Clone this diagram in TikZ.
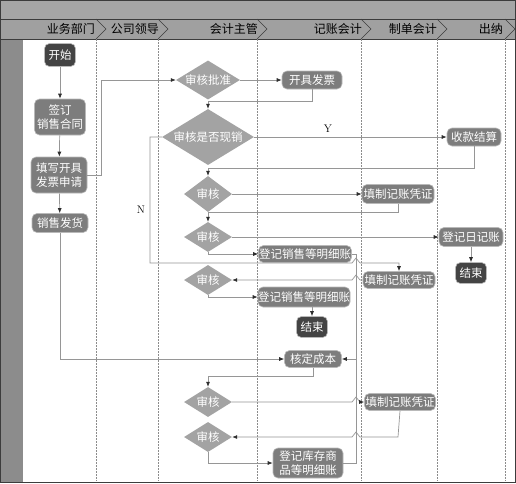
\documentclass[tikz,border=0pt]{standalone}
\usepackage{fontspec}
\newfontfamily\cjk{Noto Sans CJK SC}
\usetikzlibrary{arrows.meta,shapes.geometric,calc}
\definecolor{topband}{RGB}{166,166,166}
\definecolor{headband}{RGB}{160,160,160}
\definecolor{stripc}{RGB}{140,140,140}
\definecolor{framec}{RGB}{60,60,60}
\definecolor{procfill}{RGB}{125,125,125}
\definecolor{procedge}{RGB}{185,185,185}
\definecolor{termfill}{RGB}{68,68,68}
\definecolor{decfill}{RGB}{163,163,163}
\definecolor{linec}{RGB}{150,150,150}
\definecolor{arrc}{RGB}{45,45,45}
\definecolor{lanec}{RGB}{140,140,140}
\newcommand\mkzero[1]{\makebox[0pt]{#1}}
\begin{document}
\begin{tikzpicture}[x=1pt,y=-1pt,
  base/.style={font=\cjk\fontsize{11.5}{14}\selectfont, text=white, inner sep=0pt, align=center},
  proc/.style={base, rectangle, rounded corners=5pt, fill=procfill, draw=procedge, line width=0.6pt},
  term/.style={proc, fill=termfill},
  dec/.style={base, diamond, fill=decfill, draw=none},
  hdr/.style={font=\cjk\fontsize{12}{14}\selectfont, text=black, inner sep=0pt, anchor=east},
  conn/.style={draw=linec, line width=0.7pt, -{Latex[length=5pt,width=4pt,color=arrc]}},
  plain/.style={draw=linec, line width=0.7pt},
  lane/.style={draw=lanec, line width=0.5pt, dash pattern=on 1.5pt off 1.5pt},
  chev/.style={draw=framec, line width=0.6pt}
]
\useasboundingbox (0,0) rectangle (516,483);
% background
\fill[topband] (0,0) rectangle (516,19);
\fill[headband] (0,19) rectangle (516,39);
\fill[stripc] (0,39) rectangle (23,483);
\fill[white] (23,39) rectangle (514,481);
\draw[framec, line width=0.6pt] (0,19) -- (516,19);
\draw[framec, line width=0.6pt] (0,39) -- (516,39);
\draw[framec, line width=1.2pt] (0.6,0.6) rectangle (515.4,482.4);
% lanes
\foreach \x in {96,158,257,361,437,505} {
  \draw[lane] (\x,39) -- (\x,481);
  \draw[chev] (\x,19) -- (\x+10,29) -- (\x,39);
}
\node[hdr] (h1) at (95,29) {业务部门};
\node[hdr] (h2) at (159,29) {公司领导};
\node[hdr] (h3) at (258,29) {会计主管};
\node[hdr] (h4) at (362,29) {记账会计};
\node[hdr] (h5) at (437,29) {制单会计};
\node[hdr] (h6) at (503,29) {出纳};
% nodes
\node[term, minimum width=31pt, minimum height=23pt] (ks) at (60,55) {开始};
\node[proc, minimum width=51pt, minimum height=36pt] (qd) at (60,117) {签订\\销售合同};
\node[proc, minimum width=56pt, minimum height=36pt] (tx) at (59,175) {填写开具\\发票申请};
\node[proc, minimum width=56pt, minimum height=19pt] (xf) at (60,223) {销售发货};
\node[dec, minimum width=64pt, minimum height=39pt] (sp) at (208,80) {\mkzero{审核批准}};
\node[proc, minimum width=60pt, minimum height=18pt] (kf) at (312,80) {开具发票};
\node[dec, minimum width=92pt, minimum height=56pt] (sx) at (208,137) {\mkzero{审核是否现销}};
\node[proc, minimum width=54pt, minimum height=18pt] (sk) at (474,137) {收款结算};
\node[dec, minimum width=48pt, minimum height=36pt] (sh1) at (208,194) {\mkzero{审核}};
\node[proc, minimum width=72pt, minimum height=19pt] (tz1) at (398,194) {填制记账凭证};
\node[dec, minimum width=48pt, minimum height=30pt] (sh2) at (208,237) {\mkzero{审核}};
\node[proc, minimum width=64pt, minimum height=19pt] (rj) at (471,237) {登记日记账};
\node[term, minimum width=31pt, minimum height=21pt] (js1) at (471,273) {结束};
\node[proc, minimum width=93pt, minimum height=17pt] (ds1) at (305,254) {登记销售等明细账};
\node[proc, minimum width=72pt, minimum height=17pt] (tz2) at (399,280) {填制记账凭证};
\node[dec, minimum width=48pt, minimum height=30pt] (sh3) at (208,280) {\mkzero{审核}};
\node[proc, minimum width=92pt, minimum height=20pt] (ds2) at (304,297) {登记销售等明细账};
\node[term, minimum width=31pt, minimum height=21pt] (js2) at (312,327) {结束};
\node[proc, minimum width=57pt, minimum height=17pt] (hd) at (313,359) {核定成本};
\node[dec, minimum width=48pt, minimum height=30pt] (sh4) at (208,402) {\mkzero{审核}};
\node[proc, minimum width=71pt, minimum height=17pt] (tz3) at (400,402) {填制记账凭证};
\node[dec, minimum width=48pt, minimum height=30pt] (sh5) at (208,437) {\mkzero{审核}};
\node[proc, minimum width=70pt, minimum height=30pt] (dk) at (308,463) {登记库存商\\品等明细账};
\coordinate (jn) at (356,359);
% labels
\node[font=\fontsize{11}{13}\selectfont, inner sep=0pt] (ylab) at (328,129) {Y};
\node[font=\fontsize{11}{13}\selectfont, inner sep=0pt] (nlab) at (141,210) {N};
% connectors
\draw[conn] (ks) -- (qd);
\draw[conn] (qd) -- (tx);
\draw[conn] (tx) -- (xf);
\draw[conn] (tx.east) -- (101,175) |- (sp.west);
\draw[conn] (sp.east) -- (kf.west);
\draw[conn] (kf.south) -- (312,101) -| (sx.north);
\draw[conn] (sx.east) -- (sk.west);
\draw[conn] (sx.west) -- (150,137) -- (150,263) -- (352,263) -- (356,258) -- (360,263) -| (tz2.north);
\draw[conn] (sk.south) -- (474,168) -| (sh1.north);
\draw[conn] (sh1.east) -- (tz1.west);
\draw[conn] (tz1.south) -- (398,212) -| (sh2.north);
\draw[conn] (sh2.east) -- (rj.west);
\draw[conn] (rj.south) -- (js1.north);
\draw[conn] (sh2.south) |- (ds1.west);
\draw[plain] (ds1.east) -| (jn);
\draw[conn] (tz2.west) -- (360,280) -- (356,275) -- (352,280) -- (sh3.east);
\draw[conn] (sh3.south) |- (ds2.west);
\draw[conn] (ds2.south -| js2.north) -- (js2.north);
\draw[conn] (xf.south) |- (hd.west);
\draw[conn] (hd.south) -- (313,376) -| (sh4.north);
\draw[conn] (sh4.east) -- (352,402) -- (356,397) -- (360,402) -- (tz3.west);
\draw[conn] (tz3.south) -- (398,437) -- (360,437) -- (356,432) -- (352,437) -- (sh5.east);
\draw[conn] (sh5.south) |- (dk.west);
\draw[conn] (dk.east) -| (jn) -- (hd.east);
\end{tikzpicture}
\end{document}
